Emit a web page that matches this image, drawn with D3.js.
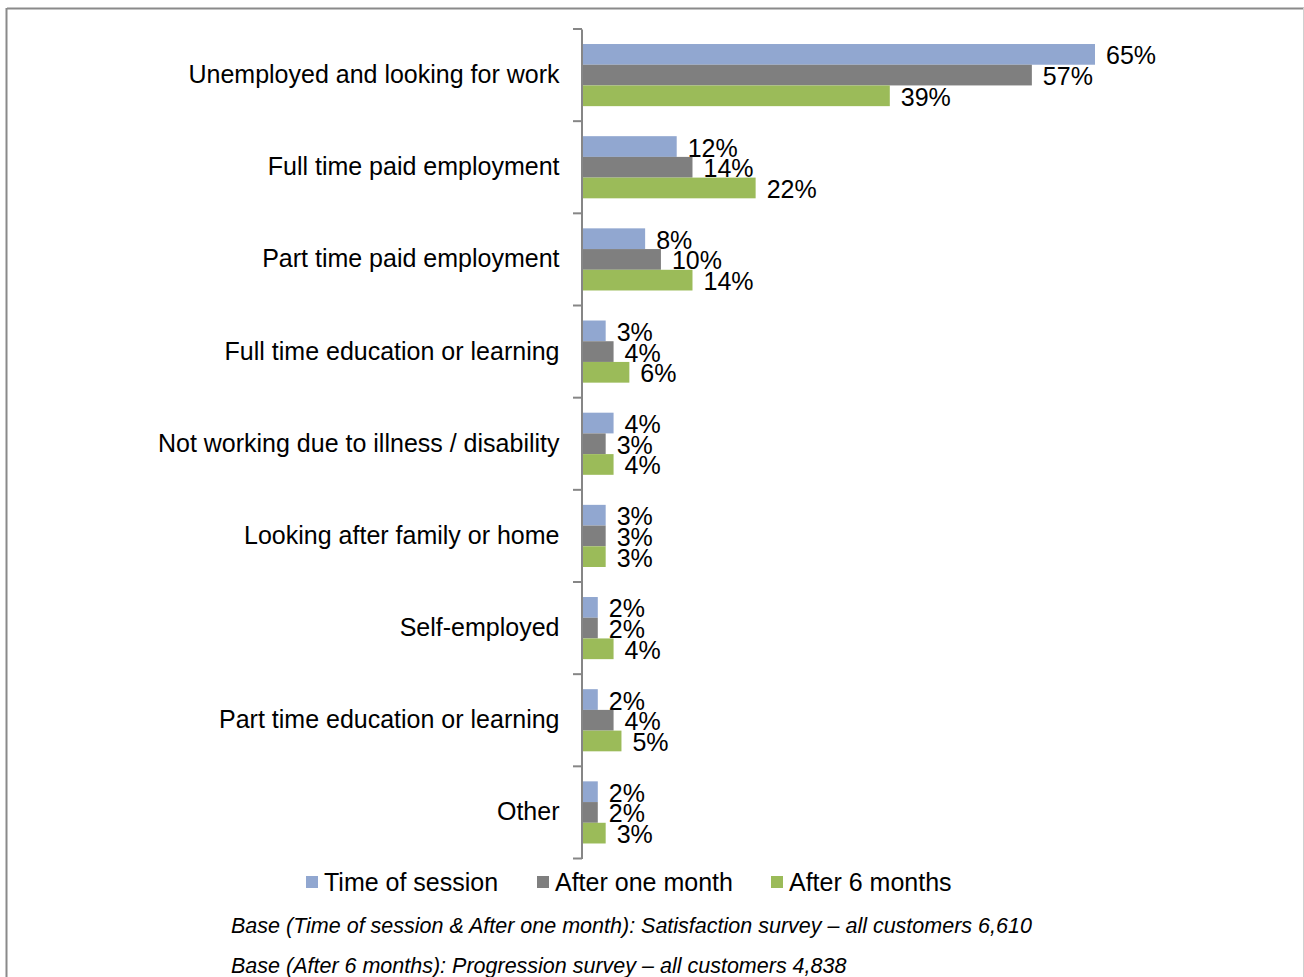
<!DOCTYPE html>
<html>
<head>
<meta charset="utf-8">
<script src="https://cdn.jsdelivr.net/npm/d3@7"></script>
<style>
  html, body { margin: 0; padding: 0; background: #fff; }
  svg { display: block; font-family: "Liberation Sans", Arial, sans-serif; }
</style>
</head>
<body>
<svg id="chart" width="1304" height="977"></svg>
<script>
// Employment status at time of session and at follow-ups
const categories = [
  "Unemployed and looking for work",
  "Full time paid employment",
  "Part time paid employment",
  "Full time education or learning",
  "Not working due to illness / disability",
  "Looking after family or home",
  "Self-employed",
  "Part time education or learning",
  "Other"
];
const seriesNames = ["Time of session", "After one month", "After 6 months"];
const timeOfSession = [65, 12, 8, 3, 4, 3, 2, 2, 2];
const afterOneMonth = [57, 14, 10, 4, 3, 3, 2, 4, 2];
const afterSixMonths = [39, 22, 14, 6, 4, 3, 4, 5, 3];
const footnotes = [
  "Base (Time of session & After one month): Satisfaction survey \u2013 all customers 6,610",
  "Base (After 6 months): Progression survey \u2013 all customers 4,838"
];

const seriesValues = [timeOfSession, afterOneMonth, afterSixMonths];
const colors = ["#91a7d0", "#7f7f7f", "#9bbb59"];

const svg = d3.select("#chart");

// outer frame
svg.append("line").attr("x1", 7).attr("x2", 1304).attr("y1", 8.5).attr("y2", 8.5)
  .attr("stroke", "#8a8a8a").attr("stroke-width", 2);
svg.append("line").attr("x1", 6.5).attr("x2", 6.5).attr("y1", 8).attr("y2", 977)
  .attr("stroke", "#8a8a8a").attr("stroke-width", 2);
svg.append("line").attr("x1", 1303.5).attr("x2", 1303.5).attr("y1", 8).attr("y2", 977)
  .attr("stroke", "#d0d0d0").attr("stroke-width", 1);

const plot = { left: 582, top: 29, bottom: 858.5 };

const y = d3.scaleBand()
  .domain(categories)
  .range([plot.top, plot.bottom])
  .paddingInner(0)
  .paddingOuter(0);

const x = d3.scaleLinear().domain([0, 65]).range([plot.left, plot.left + 513]);

const sub = d3.scaleBand()
  .domain(seriesNames)
  .range([0, y.bandwidth()])
  .paddingInner(0)
  .paddingOuter(0.725);

// bars with value labels
seriesNames.forEach((name, si) => {
  const g = svg.append("g");
  g.selectAll("rect")
    .data(categories)
    .join("rect")
    .attr("x", x(0))
    .attr("y", c => y(c) + sub(name))
    .attr("width", (c, i) => x(seriesValues[si][i]) - x(0))
    .attr("height", sub.bandwidth())
    .attr("fill", colors[si]);

  g.selectAll("text")
    .data(categories)
    .join("text")
    .attr("x", (c, i) => x(seriesValues[si][i]) + 11)
    .attr("y", c => y(c) + sub(name) + sub.bandwidth() / 2 + 10)
    .attr("font-size", 25)
    .attr("fill", "#000")
    .text((c, i) => seriesValues[si][i] + "%");
});

// category axis
const axis = d3.axisLeft(y).tickSize(0).tickPadding(22);
const axisG = svg.append("g").attr("transform", `translate(${plot.left - 0.5},0)`).call(axis);
axisG.select(".domain").attr("stroke", "#868686").attr("stroke-width", 2);
axisG.selectAll(".tick text")
  .attr("font-size", 25)
  .attr("font-family", "'Liberation Sans', Arial, sans-serif")
  .attr("fill", "#000");

// tick marks between categories
const boundaries = categories.map(c => y(c)).concat([y(categories[categories.length - 1]) + y.bandwidth()]);
svg.append("g").selectAll("line")
  .data(boundaries)
  .join("line")
  .attr("x1", plot.left - 9)
  .attr("x2", plot.left)
  .attr("y1", d => d)
  .attr("y2", d => d)
  .attr("stroke", "#868686")
  .attr("stroke-width", 2);

// legend
const legendX = [306, 537, 771];
const legend = svg.append("g");
seriesNames.forEach((name, i) => {
  legend.append("rect")
    .attr("x", legendX[i]).attr("y", 876)
    .attr("width", 12).attr("height", 12)
    .attr("fill", colors[i]);
  legend.append("text")
    .attr("x", legendX[i] + 18).attr("y", 891)
    .attr("font-size", 25)
    .attr("fill", "#000")
    .text(name);
});

// footnotes
svg.append("g").selectAll("text")
  .data(footnotes)
  .join("text")
  .attr("x", 231)
  .attr("y", (d, i) => 933 + i * 40)
  .attr("font-size", 21.5)
  .attr("font-style", "italic")
  .attr("fill", "#000")
  .text(d => d);
</script>
</body>
</html>
